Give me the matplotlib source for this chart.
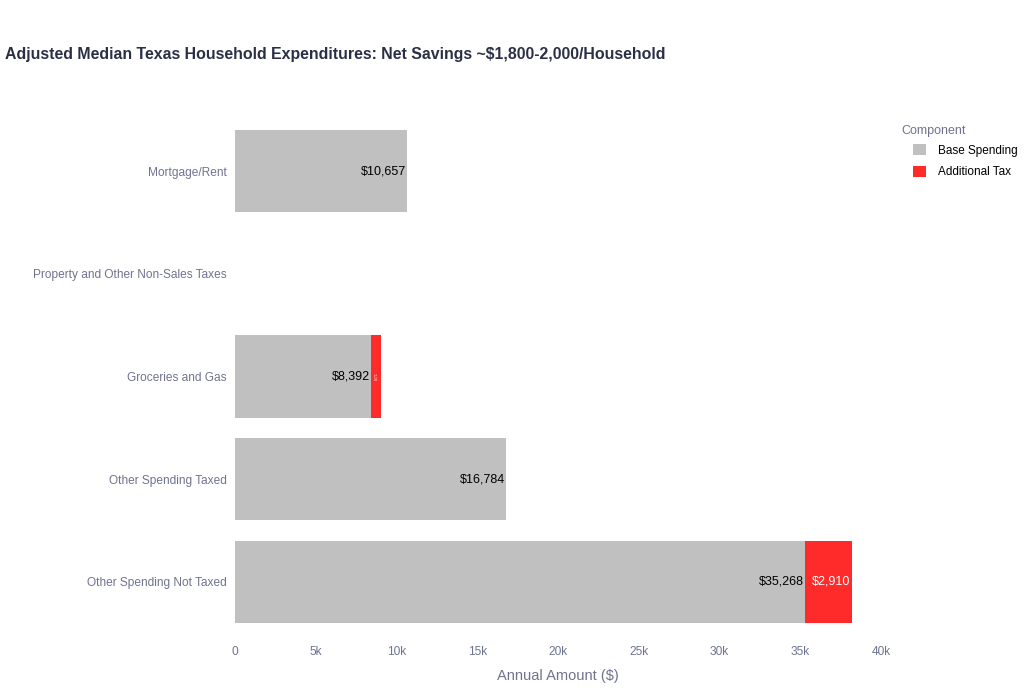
import matplotlib.pyplot as plt

plt.rcParams['font.family'] = ['Liberation Sans', 'DejaVu Sans']

categories = ['Other Spending Not Taxed', 'Other Spending Taxed', 'Groceries and Gas',
              'Property and Other Non-Sales Taxes', 'Mortgage/Rent']
base = [35268, 16784, 8392, 0, 10657]
tax = [2910, 0, 671, 0, 0]

xticks = [0, 5000, 10000, 15000, 20000, 25000, 30000, 35000, 40000]
xticklabels = ['0', '5k', '10k', '15k', '20k', '25k', '30k', '35k', '40k']

grey = '#c0c0c0'
red = '#ff2b2b'
tick_col = '#6f7390'

fig = plt.figure(figsize=(10.31, 7), dpi=100)
ax = fig.add_axes([0.228, 0.0957, 0.6265, 0.7329])

y = range(len(categories))
ax.barh(y, base, height=0.8, color=grey, label='Base Spending')
ax.barh(y, tax, left=base, height=0.8, color=red, label='Additional Tax')

for i in y:
    if base[i] > 0:
        ax.text(base[i] - 60, i, f'${base[i]:,}', ha='right', va='center',
                fontsize=9, color='black')
    if tax[i] > 0:
        if tax[i] > 1500:
            ax.text(base[i] + tax[i] - 60, i, f'${tax[i]:,}', ha='right', va='center',
                    fontsize=9, color='white')
        else:
            ax.text(base[i] + tax[i] / 2, i, f'${tax[i]:,}', ha='center', va='center',
                    fontsize=2.5, color='white', rotation=90)

ax.set_xlim(0, 40000)
ax.set_ylim(-0.5, len(categories) - 0.5)
ax.set_xticks(xticks)
ax.set_xticklabels(xticklabels)
ax.set_yticks(list(y))
ax.set_yticklabels(categories)
ax.tick_params(axis='both', length=0, labelsize=8.6, colors=tick_col)
ax.tick_params(axis='y', pad=6)
ax.tick_params(axis='x', pad=9)
for s in ax.spines.values():
    s.set_visible(False)

ax.set_xlabel('Annual Amount ($)', fontsize=10.5, color=tick_col, labelpad=8)

fig.text(0.005, 0.922, 'Adjusted Median Texas Household Expenditures: Net Savings ~$1,800-2,000/Household',
         fontsize=11.4, fontweight='bold', color='#2a2f45', ha='left', va='center')

# legend title drawn separately so the entries can sit indented like plotly's
fig.text(901 / 1031, 1 - 131 / 700, 'Component', fontsize=9, color=tick_col,
         ha='left', va='center')
leg = fig.legend(loc='upper left', bbox_to_anchor=(913 / 1031, 1 - 144 / 700),
                 frameon=False, fontsize=8.5, handlelength=1.1, handleheight=1.1,
                 labelspacing=0.75, handletextpad=1.05, borderpad=0, borderaxespad=0)

fig.savefig('out.png', dpi=100)
